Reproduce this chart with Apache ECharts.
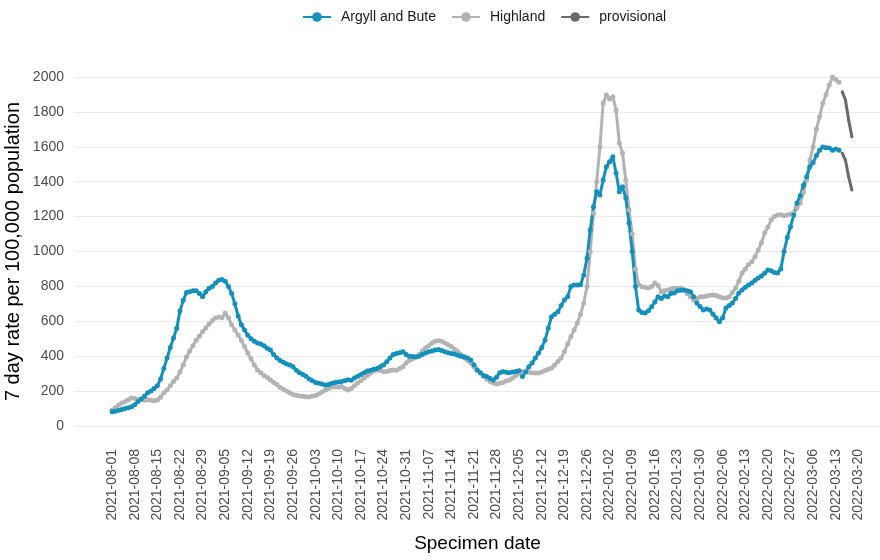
<!DOCTYPE html>
<html>
<head>
<meta charset="utf-8">
<script src="https://cdn.jsdelivr.net/npm/echarts@6/dist/echarts.min.js"></script>
<style>
  html, body { margin: 0; background: #fff; }
  #main { width: 880px; height: 560px; }
</style>
</head>
<body>
<div id="main"></div>
<script>
// first day of the series, daily values follow from here
const firstDay = '2021-08-01'

const tickLabels = [
  '2021-08-01', '2021-08-08', '2021-08-15', '2021-08-22', '2021-08-29', '2021-09-05',
  '2021-09-12', '2021-09-19', '2021-09-26', '2021-10-03', '2021-10-10', '2021-10-17',
  '2021-10-24', '2021-10-31', '2021-11-07', '2021-11-14', '2021-11-21', '2021-11-28',
  '2021-12-05', '2021-12-12', '2021-12-19', '2021-12-26', '2022-01-02', '2022-01-09',
  '2022-01-16', '2022-01-23', '2022-01-30', '2022-02-06', '2022-02-13', '2022-02-20',
  '2022-02-27', '2022-03-06', '2022-03-13', '2022-03-20'
]

// 7 day rate, one value per day from firstDay
const argyll = [
  82, 85, 90, 95, 100, 104, 110, 122, 140, 155,
  170, 190, 200, 215, 230, 270, 330, 390, 450, 505,
  560, 660, 720, 765, 770, 775, 775, 760, 740, 770,
  790, 800, 820, 835, 840, 830, 800, 760, 700, 630,
  580, 550, 520, 500, 485, 475, 470, 460, 445, 435,
  410, 390, 375, 365, 355, 350, 340, 320, 305, 295,
  285, 270, 260, 250, 245, 240, 235, 238, 245, 250,
  252, 255, 260, 265, 262, 275, 285, 295, 305, 315,
  320, 325, 330, 340, 350, 368, 390, 410, 415, 420,
  426, 410, 400, 398, 395, 400, 410, 418, 425, 430,
  435, 438, 432, 426, 420, 415, 412, 405, 400, 397,
  390, 378, 350, 321, 305, 290, 283, 272, 264, 280,
  305, 311, 308, 305, 309, 312, 317, 283, 310, 340,
  361, 390, 418, 450, 493, 560, 626, 640, 655, 690,
  722, 740, 800, 808, 808, 810, 865, 962, 1123, 1257,
  1343, 1324, 1410, 1486, 1515, 1543, 1450, 1343, 1371, 1306,
  1163, 1000, 800, 665, 650, 647, 660, 684, 710, 741,
  730, 745, 741, 760, 762, 775, 778, 780, 775, 770,
  740, 705, 685, 665, 670, 665, 640, 619, 598, 620,
  676, 690, 705, 730, 762, 780, 795, 808, 820, 835,
  848, 860, 875, 894, 890, 880, 877, 900, 1000, 1080,
  1142, 1209, 1278, 1320, 1380, 1428, 1486, 1510, 1550, 1580,
  1599, 1595, 1593, 1580, 1587, 1580
]

const highland = [
  92, 105, 120, 132, 140, 150, 160, 158, 152, 150,
  148, 150, 148, 145, 149, 165, 190, 206, 230, 255,
  275, 310, 350, 395, 430, 460, 492, 515, 540, 561,
  585, 605, 619, 625, 620, 647, 620, 580, 550, 521,
  490, 455, 418, 385, 350, 321, 305, 290, 278, 264,
  250, 238, 220, 210, 200, 190, 180, 176, 172, 170,
  168, 166, 172, 175, 185, 195, 206, 215, 223, 225,
  222, 226, 215, 206, 215, 230, 246, 260, 275, 290,
  304, 315, 321, 318, 311, 312, 318, 321, 320, 330,
  340, 361, 375, 385, 397, 410, 430, 447, 460, 475,
  485, 489, 485, 475, 465, 455, 440, 426, 410, 390,
  375, 361, 340, 320, 304, 285, 268, 255, 246, 240,
  245, 250, 258, 264, 275, 290, 300, 311, 311, 308,
  305, 304, 304, 310, 318, 325, 332, 350, 370, 390,
  426, 470, 512, 550, 590, 640, 705, 800, 1000, 1220,
  1400, 1600, 1851, 1897, 1874, 1887, 1811, 1622, 1564, 1410,
  1238, 1100, 900, 810, 798, 795, 791, 800, 819, 805,
  770, 775, 779, 785, 791, 790, 791, 780, 760, 740,
  722, 730, 741, 741, 745, 750, 751, 748, 740, 735,
  733, 740, 765, 791, 830, 877, 900, 925, 941, 970,
  1008, 1050, 1106, 1140, 1180, 1200, 1209, 1210, 1205, 1209,
  1215, 1220, 1250, 1278, 1340, 1410, 1524, 1600, 1700, 1772,
  1850, 1900, 1954, 2000, 1985, 1970
]

// provisional values, the four days after the solid lines
const argyllProv = [1564, 1524, 1428, 1352]
const highlandProv = [1916, 1868, 1753, 1658]

const DAY = 864e5
function toUtc (s) {
  const p = s.split('-')
  return Date.UTC(+p[0], +p[1] - 1, +p[2])
}
// x is the day number counted from firstDay
const dayOf = s => Math.round((toUtc(s) - toUtc(firstDay)) / DAY)
function pad (n) { return n < 10 ? '0' + n : '' + n }
function dayLabel (i) {
  const d = new Date(toUtc(firstDay) + Math.round(i) * DAY)
  return d.getUTCFullYear() + '-' + pad(d.getUTCMonth() + 1) + '-' + pad(d.getUTCDate())
}

const pairs = (arr, offset) => arr.map((v, i) => [offset + i, v])
const tickDays = tickLabels.map(dayOf)

const chart = echarts.init(document.getElementById('main'))

const lineSeries = (name, data, color, size) => ({
  name: name,
  type: 'line',
  data: data,
  clip: false,
  symbol: 'circle',
  symbolSize: size,
  showSymbol: true,
  lineStyle: { color: color, width: 3 },
  itemStyle: { color: color },
  emphasis: { disabled: true },
  animation: false
})

const option = {
  textStyle: { fontFamily: 'Liberation Sans, Arial, sans-serif' },
  legend: {
    top: 5,
    left: 297,
    itemWidth: 28,
    itemHeight: 12,
    itemGap: 15,
    textStyle: { fontSize: 14, color: '#1a1a1a', padding: [0, 0, 0, 5] },
    data: ['Argyll and Bute', 'Highland', 'provisional']
  },
  grid: { left: 75, right: 0, top: 77, bottom: 134, outerBoundsMode: 'none' },
  xAxis: {
    type: 'value',
    min: -11.5,
    max: 237.7,
    name: 'Specimen date',
    nameLocation: 'middle',
    nameGap: 108,
    nameTextStyle: { fontSize: 19, color: '#000' },
    axisLine: { show: false },
    axisTick: { show: false },
    splitLine: { show: false },
    axisLabel: {
      customValues: tickDays,
      rotate: 90,
      margin: 23,
      fontSize: 14,
      color: '#4d4d4d',
      hideOverlap: false,
      showMinLabel: true,
      showMaxLabel: true,
      formatter: v => dayLabel(v)
    }
  },
  yAxis: {
    type: 'value',
    min: 0,
    max: 2000,
    interval: 200,
    name: '7 day rate per 100,000 population',
    nameLocation: 'middle',
    nameGap: 52,
    nameMoveOverlap: false,
    nameTextStyle: { fontSize: 20, color: '#000' },
    axisLine: { show: false },
    axisTick: { show: false },
    axisLabel: { fontSize: 14, color: '#4d4d4d', margin: 11, formatter: v => String(v) },
    splitLine: { lineStyle: { color: '#ebebeb', width: 1.2 } }
  },
  series: [
    lineSeries('Highland', pairs(highland, 0), '#b3b3b3', 5),
    lineSeries('Argyll and Bute', pairs(argyll, 0), '#1390bb', 5),
    lineSeries('provisional', pairs(highlandProv, highland.length), '#6b6b6b', 3),
    lineSeries('provisional', pairs(argyllProv, argyll.length), '#6b6b6b', 3)
  ]
}

chart.setOption(option)
</script>
</body>
</html>
